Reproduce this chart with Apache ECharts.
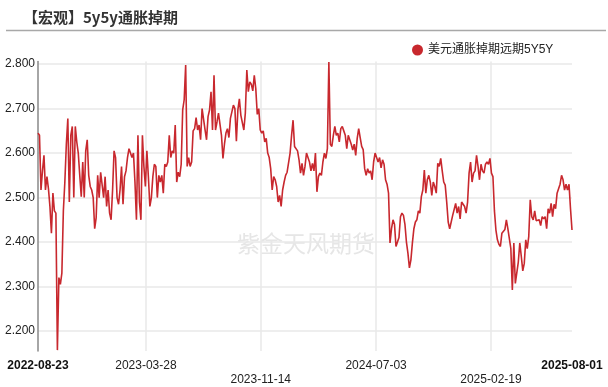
<!DOCTYPE html>
<html>
<head>
<meta charset="utf-8">
<script src="https://cdn.jsdelivr.net/npm/echarts@6/dist/echarts.min.js"></script>
<style>
html,body{margin:0;padding:0;background:#fff;}
#chart{width:608px;height:387px;}
</style>
</head>
<body>
<div id="chart"></div>
<script>
const titleText = '【宏观】5y5y通胀掉期';
const seriesName = '美元通胀掉期远期5Y5Y';
const watermarkText = '紫金天风期货';
const tickDates = ['2022-08-23', '2023-03-28', '2023-11-14', '2024-07-03', '2025-02-19', '2025-08-01'];
const startDate = '2022-08-23';
const stepDays = 3;
const yMin = 2.155;
const yMax = 2.806;
const values = [
  2.645, 2.64, 2.517, 2.56, 2.595, 2.517, 2.547, 2.52, 2.48, 2.42,
  2.51, 2.47, 2.465, 2.157, 2.32, 2.305, 2.33, 2.47, 2.535, 2.62,
  2.678, 2.49, 2.64, 2.66, 2.50, 2.66, 2.625, 2.60, 2.55, 2.502,
  2.58, 2.50, 2.605, 2.63, 2.55, 2.525, 2.517, 2.50, 2.43, 2.455,
  2.55, 2.50, 2.557, 2.56, 2.50, 2.547, 2.48, 2.517, 2.465, 2.45,
  2.517, 2.605, 2.59, 2.50, 2.485, 2.517, 2.57, 2.485, 2.547, 2.56,
  2.59, 2.61, 2.60, 2.59, 2.60, 2.535, 2.45, 2.64, 2.49, 2.45,
  2.64, 2.57, 2.525, 2.605, 2.547, 2.48, 2.50, 2.547, 2.575, 2.57,
  2.50, 2.55, 2.535, 2.55, 2.51, 2.575, 2.57, 2.58, 2.64, 2.59,
  2.605, 2.60, 2.663, 2.535, 2.557, 2.547, 2.575, 2.697, 2.72, 2.798,
  2.57, 2.59, 2.57, 2.58, 2.65, 2.655, 2.68, 2.652, 2.663, 2.63,
  2.70, 2.697, 2.652, 2.63, 2.682, 2.697, 2.738, 2.652, 2.775, 2.652,
  2.67, 2.69, 2.69, 2.64, 2.588, 2.62, 2.645, 2.655, 2.635, 2.678,
  2.682, 2.708, 2.70, 2.627, 2.697, 2.722, 2.685, 2.685, 2.652, 2.69,
  2.787, 2.738, 2.76, 2.755, 2.74, 2.775, 2.745, 2.687, 2.70, 2.652,
  2.645, 2.65, 2.625, 2.633, 2.60, 2.59, 2.565, 2.517, 2.547, 2.54,
  2.525, 2.49, 2.505, 2.48, 2.517, 2.535, 2.55, 2.557, 2.555, 2.60,
  2.64, 2.674, 2.615, 2.618, 2.605, 2.585, 2.555, 2.577, 2.55, 2.57,
  2.60, 2.60, 2.58, 2.56, 2.577, 2.56, 2.60, 2.513, 2.547, 2.555,
  2.55, 2.58, 2.60, 2.588, 2.61, 2.805, 2.62, 2.615, 2.64, 2.66,
  2.64, 2.645, 2.625, 2.655, 2.66, 2.65, 2.64, 2.61, 2.64, 2.63,
  2.62, 2.607, 2.62, 2.595, 2.633, 2.655, 2.635, 2.615, 2.608, 2.565,
  2.55, 2.565, 2.555, 2.56, 2.54, 2.58, 2.60, 2.59, 2.58, 2.59,
  2.567, 2.585, 2.575, 2.54, 2.53, 2.51, 2.398, 2.43, 2.45, 2.44,
  2.39, 2.40, 2.41, 2.457, 2.465, 2.46, 2.44, 2.40, 2.375, 2.342,
  2.36, 2.398, 2.43, 2.445, 2.45, 2.47, 2.465, 2.502, 2.517, 2.562,
  2.51, 2.54, 2.55, 2.535, 2.505, 2.535, 2.525, 2.51, 2.577, 2.57,
  2.588, 2.56, 2.535, 2.528, 2.49, 2.445, 2.43, 2.427, 2.46, 2.46,
  2.487, 2.465, 2.48, 2.452, 2.49, 2.49, 2.48, 2.465, 2.49, 2.555,
  2.58, 2.535, 2.555, 2.56, 2.595, 2.57, 2.54, 2.575, 2.56, 2.555,
  2.575, 2.58, 2.575, 2.588, 2.555, 2.547, 2.47, 2.427, 2.405, 2.395,
  2.39, 2.42, 2.42, 2.428, 2.45, 2.43, 2.427, 2.385, 2.292, 2.398,
  2.307, 2.31, 2.355, 2.398, 2.368, 2.335, 2.352, 2.405, 2.385, 2.412,
  2.495, 2.457, 2.45, 2.47, 2.448, 2.445, 2.45, 2.437, 2.457, 2.452,
  2.457, 2.43, 2.475, 2.465, 2.487, 2.457, 2.485, 2.475, 2.51, 2.52,
  2.53, 2.55, 2.54, 2.517, 2.53, 2.517, 2.53, 2.475, 2.427
];

function toTs(s) {
  const p = s.split('-').map(Number);
  return Date.UTC(p[0], p[1] - 1, p[2]);
}
const DAY = 86400000;
const t0 = toTs(startDate);
const tickTs = tickDates.map(toTs);
const seriesData = values.map((v, i) => [t0 + i * stepDays * DAY, v]);

const font = "'Liberation Sans', Arial, 'Noto Sans CJK SC', sans-serif";
const chart = echarts.init(document.getElementById('chart'), null, { renderer: 'canvas' });
chart.setOption({
  animation: false,
  backgroundColor: '#fff',
  title: {
    text: titleText,
    left: 18,
    top: 5,
    textStyle: { fontSize: 15, fontWeight: 'bold', color: '#333', fontFamily: "'Noto Sans CJK SC', sans-serif" }
  },
  legend: {
    left: 407,
    top: 39,
    icon: 'circle',
    itemWidth: 11,
    itemHeight: 11,
    textStyle: { fontSize: 12, color: '#222', fontFamily: font },
    data: [seriesName]
  },
  graphic: [
    {
      type: 'line',
      shape: { x1: 6, y1: 30.5, x2: 606, y2: 30.5 },
      style: { stroke: '#a8a8a8', lineWidth: 1.5 }
    },
    {
      type: 'text',
      x: 306, y: 243,
      z: 0,
      style: {
        text: watermarkText,
        fill: '#e6e6e6',
        font: "23px 'Noto Sans CJK SC', sans-serif",
        textAlign: 'center',
        textVerticalAlign: 'middle'
      }
    }
  ],
  grid: { left: 38, right: 36, top: 61.5, bottom: 36, containLabel: false },
  xAxis: {
    type: 'value',
    min: tickTs[0],
    max: tickTs[tickTs.length - 1],
    axisLine: { show: false },
    axisTick: { show: false, customValues: tickTs },
    splitLine: { show: true, showMinLine: false, showMaxLine: false, lineStyle: { color: '#e8e8e8', width: 1.5 } },
    axisLabel: {
      customValues: tickTs,
      margin: 8,
      fontSize: 12,
      color: '#222',
      fontFamily: font,
      lineHeight: 14,
      formatter: function (val) {
        let idx = 0, best = Infinity;
        tickTs.forEach((t, k) => { const d = Math.abs(t - val); if (d < best) { best = d; idx = k; } });
        const txt = tickDates[idx];
        if (idx === 0 || idx === tickDates.length - 1) return '{b|' + txt + '}';
        if (idx % 2 === 0) return '\n' + txt;
        return txt;
      },
      rich: {
        b: { fontWeight: 'bold', fontSize: 12, color: '#111', fontFamily: font, lineHeight: 14 }
      }
    }
  },
  yAxis: {
    type: 'value',
    min: yMin,
    max: yMax,
    splitNumber: 6,
    axisLine: { show: true, lineStyle: { color: '#888', width: 1.5 } },
    axisTick: { show: false },
    splitLine: { show: true, showMinLine: false, showMaxLine: false, lineStyle: { color: '#e8e8e8', width: 1.5 } },
    axisLabel: {
      margin: 3,
      fontSize: 12,
      color: '#222',
      fontFamily: font,
      showMinLabel: false,
      showMaxLabel: false,
      formatter: v => v.toFixed(3)
    }
  },
  series: [{
    name: seriesName,
    type: 'line',
    data: seriesData,
    showSymbol: false,
    symbol: 'circle',
    z: 3,
    itemStyle: { color: '#c8282e' },
    lineStyle: { color: '#c8282e', width: 1.6 }
  }]
});
</script>
</body>
</html>
